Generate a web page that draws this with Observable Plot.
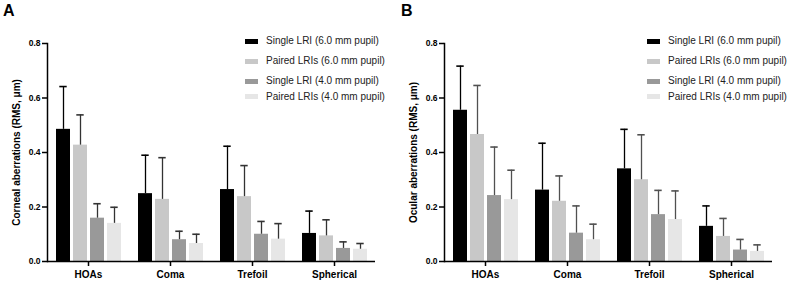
<!DOCTYPE html>
<html><head><meta charset="utf-8">
<script src="https://cdn.jsdelivr.net/npm/d3@7"></script>
<script src="https://cdn.jsdelivr.net/npm/@observablehq/plot@0.6"></script>
<style>
body{margin:0;background:#fff;font-family:"Liberation Sans",Arial,sans-serif;}
#wrap{position:relative;width:789px;height:284px;overflow:hidden;background:#fff}
.panel{position:absolute;top:0;width:395px;height:284px}
.panel svg{position:absolute;left:0;top:0}
.letter{position:absolute;top:3px;font-size:16px;line-height:16px;font-weight:bold;color:#000}
.legend{position:absolute;top:0;font-size:10px;color:#222}
.item{position:absolute;left:0;white-space:nowrap;display:flex;align-items:center;height:12px;line-height:12px}
.sw{display:inline-block;width:13px;height:5px;margin-right:8px}
</style></head>
<body>
<div id="wrap">
  <div class="panel" id="pa" style="left:0"></div>
  <div class="panel" id="pb" style="left:397px"></div>
</div>
<script>
const categories = ["HOAs", "Coma", "Trefoil", "Spherical"];
const series = ["Single LRI (6.0 mm pupil)", "Paired LRIs (6.0 mm pupil)", "Single LRI (4.0 mm pupil)", "Paired LRIs (4.0 mm pupil)"];
const colors = ["#000000", "#c8c8c8", "#999999", "#e6e6e6"];
const yTicks = [0, 0.2, 0.4, 0.6, 0.8];

// Corneal aberrations (panel A): rows = series, columns = categories
const cornealMean = [
  [0.485, 0.249, 0.264, 0.103],
  [0.427, 0.228, 0.238, 0.094],
  [0.159, 0.080, 0.100, 0.048],
  [0.140, 0.066, 0.082, 0.045]
];
const cornealSD = [
  [0.157, 0.141, 0.159, 0.082],
  [0.111, 0.153, 0.114, 0.059],
  [0.053, 0.031, 0.047, 0.024],
  [0.059, 0.034, 0.057, 0.021]
];
// Ocular aberrations (panel B)
const ocularMean = [
  [0.555, 0.262, 0.340, 0.129],
  [0.466, 0.221, 0.300, 0.092],
  [0.242, 0.104, 0.172, 0.042],
  [0.227, 0.080, 0.154, 0.037]
];
const ocularSD = [
  [0.162, 0.172, 0.145, 0.075],
  [0.180, 0.093, 0.165, 0.066],
  [0.178, 0.100, 0.089, 0.039],
  [0.108, 0.057, 0.105, 0.024]
];

function makePanel(means, sds, yLabel, errColor) {
  const rows = [];
  series.forEach((s, i) => categories.forEach((c, j) =>
    rows.push({cat: c, series: s, mean: means[i][j], hi: means[i][j] + sds[i][j]})));
  const isBlack = d => d.series === series[0];
  const notBlack = d => d.series !== series[0];
  return Plot.plot({
    width: 395, height: 284,
    marginLeft: 47, marginRight: 20, marginTop: 43, marginBottom: 23,
    style: {fontFamily: "'Liberation Sans', Arial, sans-serif", color: "#000", background: "transparent"},
    fx: {domain: categories, padding: 0},
    x: {domain: series, paddingInner: 0.2, paddingOuter: 0.5, axis: null},
    y: {domain: [0, 0.8]},
    color: {domain: series, range: colors},
    marks: [
      Plot.barY(rows, {fx: "cat", x: "series", y: "mean", fill: "series"}),
      Plot.ruleX(rows, {filter: isBlack, fx: "cat", x: "series", y1: "mean", y2: "hi", stroke: "#000", strokeWidth: 1.3}),
      Plot.ruleX(rows, {filter: notBlack, fx: "cat", x: "series", y1: "mean", y2: "hi", stroke: errColor, strokeWidth: 1.3}),
      Plot.tickY(rows, {filter: isBlack, fx: "cat", x: "series", y: "hi", stroke: "#000", strokeWidth: 1.6, insetLeft: 3.3, insetRight: 3.3}),
      Plot.tickY(rows, {filter: notBlack, fx: "cat", x: "series", y: "hi", stroke: errColor, strokeWidth: 1.6, insetLeft: 3.3, insetRight: 3.3}),
      Plot.ruleY([0], {stroke: "#000", strokeWidth: 1.5}),
      Plot.frame({anchor: "left", facetAnchor: "left", stroke: "#000", strokeWidth: 1.5}),
      Plot.axisY({ticks: yTicks, tickFormat: d3.format(".1f"), tickSize: 5, tickPadding: 2, fontSize: 8.5, fontWeight: "bold", label: null, strokeWidth: 1.5}),
      Plot.axisY({ticks: [], label: yLabel, labelAnchor: "center", labelArrow: "none", labelOffset: 35, fontSize: 10, fontWeight: "bold"}),
      Plot.axisFx({anchor: "bottom", tickSize: 5, tickPadding: 4, fontSize: 10, fontWeight: "bold", label: null, strokeWidth: 1.5})
    ]
  });
}

function makeLegend(left) {
  const lg = document.createElement("div");
  lg.className = "legend";
  lg.style.left = left + "px";
  const tops = [35, 55, 75, 90.7];
  series.forEach((s, i) => {
    const it = document.createElement("div");
    it.className = "item";
    it.style.top = tops[i] + "px";
    const sw = document.createElement("span");
    sw.className = "sw";
    sw.style.background = colors[i];
    it.appendChild(sw);
    it.appendChild(document.createTextNode(s));
    lg.appendChild(it);
  });
  return lg;
}

function letter(t, left) {
  const d = document.createElement("div");
  d.className = "letter";
  d.style.left = left + "px";
  d.textContent = t;
  return d;
}

const pa = document.getElementById("pa");
pa.appendChild(makePanel(cornealMean, cornealSD, "Corneal aberrations (RMS, μm)", "#333"));
pa.appendChild(makeLegend(245));
pa.appendChild(letter("A", 3));

const pb = document.getElementById("pb");
pb.appendChild(makePanel(ocularMean, ocularSD, "Ocular aberrations (RMS, μm)", "#505050"));
pb.appendChild(makeLegend(250));
pb.appendChild(letter("B", 4));
</script>
</body></html>
